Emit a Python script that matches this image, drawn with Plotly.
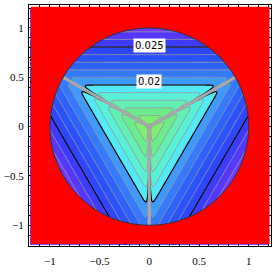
import numpy as np
import plotly.graph_objects as go

# ---- data / parameters ----
GRID_LIMIT = 1.2                       # square domain of the field
FACE_ANGLES_DEG = [90, 210, 330]       # outward normals of the triangular level sets
RAY_ANGLES_DEG = [30, 150, 270]        # grey rays from centre to the disk edge
V_CENTER = 0.01453                     # field value at the centre
SLOPE = 0.012987                       # field increase per unit of distance
RIDGE_HEIGHT = 0.0039                  # sharp ridge along the three rays
RIDGE_WIDTH = 0.01
LEVEL_START, LEVEL_END, LEVEL_STEP = 0.015, 0.028, 0.001
BLACK_LEVELS = [0.02, 0.025]
LABEL_TEXT = ["0.025", "0.02"]
LABEL_X = [0.0, 0.0]
LABEL_Y = [0.82, 0.46]
BAND_COLORS = [
    "rgb(150,240,110)", "rgb(128,238,112)", "rgb(108,236,140)", "rgb(100,240,178)",
    "rgb(90,242,215)", "rgb(82,235,245)", "rgb(62,155,252)", "rgb(52,122,252)",
    "rgb(46,98,252)", "rgb(42,82,252)", "rgb(46,70,252)", "rgb(62,60,252)",
    "rgb(86,56,252)", "rgb(110,56,252)", "rgb(130,56,252)",
]
RED_BOX = [-1.19, 1.21, -1.19, 1.215]  # x0, x1, y0, y1 of red background
X_RANGE = [-1.21, 1.224]
Y_RANGE = [-1.21, 1.232]

# ---- field ----
xs = np.linspace(-GRID_LIMIT, GRID_LIMIT, 481)
ys = np.linspace(-GRID_LIMIT, GRID_LIMIT, 481)
X, Y = np.meshgrid(xs, ys)
proj = [X * np.cos(np.radians(a)) + Y * np.sin(np.radians(a)) for a in FACE_ANGLES_DEG]
Z = V_CENTER + SLOPE * np.max(np.stack(proj), axis=0)
for a in RAY_ANGLES_DEG:
    ux, uy = np.cos(np.radians(a)), np.sin(np.radians(a))
    along = X * ux + Y * uy
    perp = np.abs(X * uy - Y * ux)
    dist = np.where(along > 0, perp, np.hypot(X, Y))
    Z = Z + RIDGE_HEIGHT * np.exp(-dist / RIDGE_WIDTH)

n_bands = len(BAND_COLORS)
colorscale = [[k / (n_bands - 1), c] for k, c in enumerate(BAND_COLORS)]

fig = go.Figure()
fig.add_trace(go.Contour(
    x=xs, y=ys, z=Z,
    zmin=LEVEL_START - LEVEL_STEP / 2, zmax=LEVEL_END + LEVEL_STEP / 2, zauto=False,
    colorscale=colorscale, showscale=False,
    contours=dict(start=LEVEL_START, end=LEVEL_END, size=LEVEL_STEP, coloring="fill"),
    line=dict(color="rgb(150,150,165)", width=1),
    hoverinfo="skip",
))
fig.add_trace(go.Contour(
    x=xs, y=ys, z=Z, showscale=False,
    contours=dict(start=BLACK_LEVELS[0], end=BLACK_LEVELS[-1],
                  size=BLACK_LEVELS[-1] - BLACK_LEVELS[0], coloring="none"),
    line=dict(color="black", width=1.2),
    hoverinfo="skip",
))

# grey rays
rx, ry = [], []
for a in RAY_ANGLES_DEG:
    rx += [0, np.cos(np.radians(a)), None]
    ry += [0, np.sin(np.radians(a)), None]
fig.add_trace(go.Scatter(x=rx, y=ry, mode="lines",
                         line=dict(color="rgb(168,168,168)", width=3),
                         hoverinfo="skip", showlegend=False))

# red mask outside unit disk
t = np.linspace(0, 2 * np.pi, 241)
x0, x1, y0, y1 = RED_BOX
path = f"M {x0},{y0} L {x1},{y0} L {x1},{y1} L {x0},{y1} Z M " + \
    " L ".join(f"{np.cos(a):.5f},{np.sin(a):.5f}" for a in t) + " Z"
fig.add_shape(type="path", path=path, xref="x", yref="y", fillcolor="red",
              fillrule="evenodd", line=dict(width=0), layer="above")
fig.add_shape(type="circle", x0=-1, y0=-1, x1=1, y1=1, xref="x", yref="y",
              line=dict(color="rgb(50,50,50)", width=1), layer="above")

for txt, lx, ly in zip(LABEL_TEXT, LABEL_X, LABEL_Y):
    fig.add_annotation(x=lx, y=ly, text=txt, showarrow=False, bgcolor="white",
                       font=dict(family="DejaVu Sans", size=10, color="black"),
                       borderpad=1)

axis_common = dict(showgrid=False, zeroline=False, showline=True, linecolor="black",
                   linewidth=1, mirror="allticks", ticks="inside", ticklen=4,
                   tickcolor="black", tick0=0, dtick=0.5, automargin=False,
                   tickfont=dict(family="Liberation Serif", size=11, color="black"),
                   minor=dict(ticks="inside", dtick=0.1, ticklen=2, tickcolor="black"))
fig.update_layout(
    width=273, height=273, margin=dict(l=29, r=2, t=5, b=27),
    paper_bgcolor="white", plot_bgcolor="white", showlegend=False,
    xaxis=dict(range=X_RANGE, ticklabelstandoff=5, **axis_common),
    yaxis=dict(range=Y_RANGE, ticklabelstandoff=2, **axis_common),
)
fig.write_html("out.html", config={"displayModeBar": False},
               post_script="document.body.style.margin='0';document.body.style.overflow='hidden';")
